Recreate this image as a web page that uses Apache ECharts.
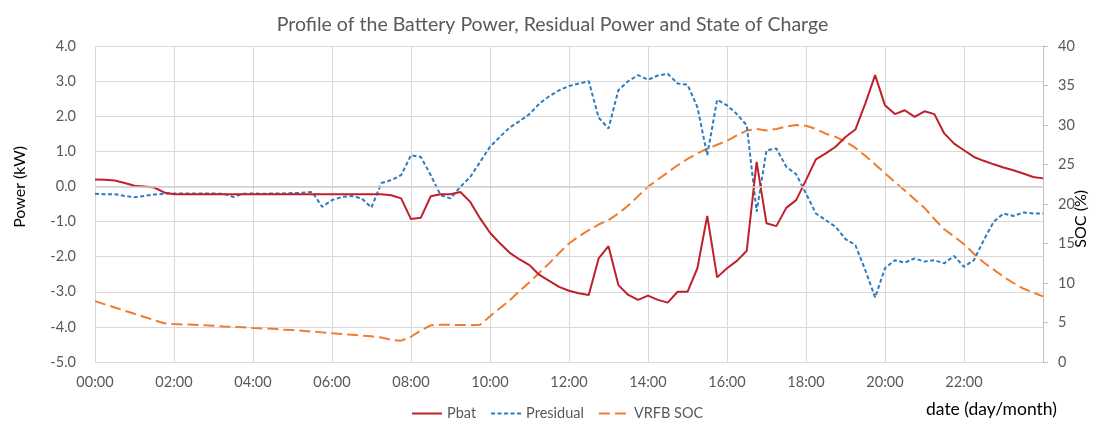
<!DOCTYPE html>
<html>
<head>
<meta charset="utf-8">
<script src="https://cdn.jsdelivr.net/npm/echarts@6/dist/echarts.min.js"></script>
<style>
html,body{margin:0;padding:0;background:#fff;}
#chart{width:1105px;height:421px;}
</style>
</head>
<body>
<div id="chart"></div>
<script>
// time stamps every 15 minutes, 00:00 .. 24:00
const times = [];
for (let i = 0; i <= 96; i++) {
  const h = Math.floor(i / 4), m = (i % 4) * 15;
  times.push((h < 10 ? '0' : '') + h + ':' + (m < 10 ? '0' : '') + m);
}
const powerTicks = { min: -5, max: 4, step: 1 };
const socTicks = { min: 0, max: 40, step: 5 };

const pbat = [0.20,0.19,0.17,0.10,0.02,0.00,-0.03,-0.17,-0.22,
  -0.22,-0.22,-0.22,-0.22,-0.22,-0.22,-0.22,-0.22,-0.22,-0.22,
  -0.22,-0.22,-0.22,-0.22,-0.22,-0.22,-0.22,-0.22,-0.22,-0.22,
  -0.22,-0.25,-0.34,-0.93,-0.89,-0.28,-0.22,-0.22,-0.16,-0.44,-0.91,
  -1.32,-1.62,-1.89,-2.08,-2.24,-2.52,-2.69,-2.86,-2.97,-3.04,-3.09,
  -2.05,-1.70,-2.81,-3.09,-3.23,-3.11,-3.23,-3.31,-3.00,-3.00,-2.33,
  -0.84,-2.59,-2.33,-2.12,-1.83,0.70,-1.05,-1.13,-0.61,-0.39,0.18,
  0.77,0.94,1.13,1.41,1.62,2.36,3.17,2.31,2.06,2.17,1.98,2.14,2.06,
  1.51,1.22,1.03,0.84,0.73,0.63,0.54,0.46,0.37,0.27,0.23];

const presidual = [-0.21,-0.22,-0.22,-0.27,-0.31,-0.27,-0.23,-0.21,-0.20,
  -0.20,-0.20,-0.20,-0.20,-0.21,-0.30,-0.21,-0.20,-0.21,-0.20,-0.20,
  -0.19,-0.18,-0.16,-0.58,-0.39,-0.30,-0.27,-0.34,-0.60,0.10,0.18,0.32,
  0.89,0.84,0.32,-0.25,-0.34,-0.01,0.27,0.70,1.13,1.41,1.68,1.86,2.06,
  2.36,2.57,2.74,2.86,2.93,3.00,1.96,1.65,2.74,3.00,3.17,3.04,3.16,3.21,
  2.93,2.90,2.26,0.89,2.47,2.31,2.06,1.74,-0.72,1.03,1.08,0.56,0.35,
  -0.20,-0.77,-0.96,-1.15,-1.50,-1.67,-2.38,-3.16,-2.33,-2.10,-2.17,
  -2.05,-2.14,-2.10,-2.19,-1.98,-2.29,-2.10,-1.53,-1.01,-0.77,-0.84,
  -0.74,-0.77,-0.77];

const soc = [7.7,7.3,6.9,6.5,6.1,5.7,5.3,4.9,4.8,4.75,4.7,4.65,4.6,
  4.5,4.45,4.4,4.3,4.25,4.2,4.1,4.05,3.95,3.85,3.75,3.65,3.55,3.45,
  3.35,3.25,3.1,2.8,2.7,3.2,4.0,4.65,4.7,4.7,4.68,4.66,4.7,5.8,6.8,
  7.8,9.0,10.1,11.3,12.5,13.8,15.0,15.9,16.7,17.4,17.95,18.8,19.8,
  21.0,22.2,23.1,24.0,24.9,25.7,26.4,27.0,27.5,28.0,28.7,29.3,29.5,
  29.3,29.5,29.8,30.0,29.9,29.5,28.9,28.5,27.9,27.1,26.1,25.0,23.9,
  22.8,21.7,20.6,19.5,18.1,16.8,15.9,14.9,13.7,12.6,11.7,10.8,10.0,
  9.3,8.8,8.3];

const FONT = 'Lato, "Liberation Sans", sans-serif';
const chart = echarts.init(document.getElementById('chart'), null, { renderer: 'canvas' });

chart.setOption({
  backgroundColor: '#ffffff',
  animation: false,
  textStyle: { fontFamily: FONT },
  title: {
    text: 'Profile of the Battery Power, Residual Power and State of Charge',
    left: 'center', top: 10,
    textStyle: { fontFamily: FONT, fontSize: 19.5, fontWeight: 'normal', color: '#595959' }
  },
  grid: { left: 95, right: 62, top: 46, bottom: 59, containLabel: false },
  legend: {
    data: ['Pbat', 'Presidual', 'VRFB SOC'],
    left: 406, top: 401,
    itemWidth: 30, itemHeight: 10, itemGap: 14,
    itemStyle: { opacity: 0 },
    textStyle: { fontFamily: FONT, fontSize: 14.5, color: '#595959' }
  },
  xAxis: {
    type: 'category',
    data: times,
    boundaryGap: false,
    axisLine: { show: false },
    axisTick: { show: false },
    axisLabel: {
      interval: 7, margin: 13, fontSize: 14.5, color: '#595959', fontFamily: FONT,
      formatter: v => (v === '24:00' ? '' : v)
    },
    splitLine: { show: true, interval: 7, lineStyle: { color: '#D9D9D9', width: 1 } }
  },
  yAxis: [
    {
      type: 'value', min: powerTicks.min, max: powerTicks.max, interval: powerTicks.step,
      position: 'left',
      axisLine: { show: false }, axisTick: { show: false },
      axisLabel: { margin: 19, fontSize: 14.5, color: '#595959', fontFamily: FONT, formatter: v => v.toFixed(1) },
      splitLine: { show: true, lineStyle: { color: '#D9D9D9', width: 1 } }
    },
    {
      type: 'value', min: socTicks.min, max: socTicks.max, interval: socTicks.step,
      position: 'right',
      axisLine: { show: true, lineStyle: { color: '#BFBFBF', width: 1 } },
      axisTick: { show: true, length: 5, inside: false, lineStyle: { color: '#BFBFBF' } },
      axisLabel: { margin: 15, fontSize: 14.5, color: '#595959', fontFamily: FONT },
      splitLine: { show: false }
    }
  ],
  graphic: [
    { type: 'text', left: 12, top: 146, rotation: Math.PI / 2,
      style: { text: 'Power (kW)', fontSize: 16, fill: '#000', fontFamily: FONT } },
    { type: 'text', left: 1073, top: 190, rotation: Math.PI / 2,
      style: { text: 'SOC (%)', fontSize: 16, fill: '#000', fontFamily: FONT } },
    { type: 'text', left: 926, top: 400,
      style: { text: 'date (day/month)', fontSize: 17.5, fill: '#000', fontFamily: FONT } }
  ],
  series: [
    {
      name: 'zero', type: 'line', data: [], z: 1, silent: true,
      markLine: {
        silent: true, symbol: 'none', label: { show: false },
        lineStyle: { color: '#CFCFCF', width: 1.5, type: 'solid' },
        data: [{ yAxis: 0 }]
      }
    },
    {
      name: 'Pbat', type: 'line', yAxisIndex: 0, data: pbat, z: 4,
      symbol: 'none', smooth: false,
      lineStyle: { color: '#C0202A', width: 2 }, itemStyle: { color: '#C0202A' }
    },
    {
      name: 'Presidual', type: 'line', yAxisIndex: 0, data: presidual, z: 3,
      symbol: 'none',
      lineStyle: { color: '#2E7CC0', width: 2, type: [4, 2.5] }, itemStyle: { color: '#2E7CC0' }
    },
    {
      name: 'VRFB SOC', type: 'line', yAxisIndex: 1, data: soc, z: 2,
      symbol: 'none',
      lineStyle: { color: '#ED7D31', width: 2, type: [11, 5] }, itemStyle: { color: '#ED7D31' }
    }
  ]
});
</script>
</body>
</html>
